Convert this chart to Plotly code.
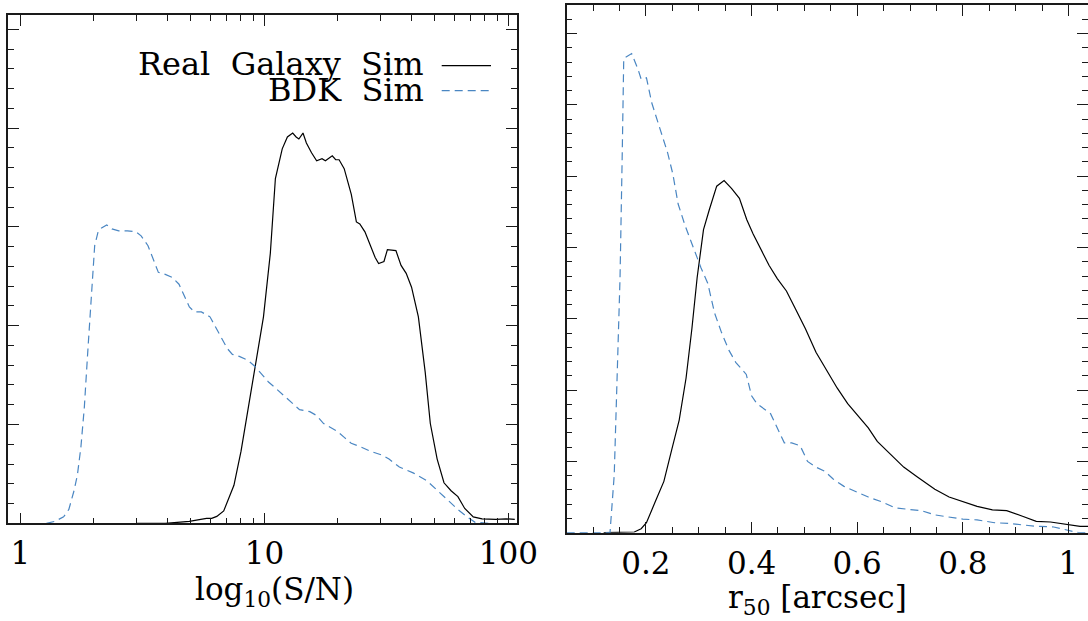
import plotly.graph_objects as go

# ---------------- data ----------------
# Left panel: S/N distribution (arbitrary normalisation, 1 unit = 1 major y tick)
sn_real = [3.0, 3.92, 4.92, 5.79, 6.08, 6.38, 6.81, 7.50, 8.02, 8.55, 9.12, 9.91,
           10.57, 11.09, 11.83, 12.42, 13.06, 13.49, 13.84, 14.39, 14.86, 15.60,
           16.37, 17.22, 17.78, 18.97, 19.59, 20.23, 21.23, 22.70, 23.82, 24.60,
           25.82, 27.10, 28.44, 29.38, 30.90, 31.92, 34.59, 36.31, 38.11, 40.09,
           42.76, 45.60, 47.86, 51.05, 54.45, 58.21, 62.09, 66.22, 71.78, 77.98,
           88.72, 97.95, 106.2]
y_real_sn = [0.0, 0.0, 0.02, 0.05, 0.05, 0.07, 0.125, 0.385, 0.73, 1.13, 1.57, 2.09,
             2.73, 3.49, 3.79, 3.91, 3.95, 3.91, 3.89, 3.95, 3.85, 3.75,
             3.67, 3.69, 3.67, 3.72, 3.68, 3.68, 3.59, 3.33, 3.05, 3.03,
             2.95, 2.81, 2.69, 2.63, 2.65, 2.77, 2.76, 2.61, 2.53, 2.39,
             2.09, 1.53, 1.01, 0.65, 0.41, 0.33, 0.27, 0.15, 0.065, 0.045,
             0.04, 0.045, 0.04]

sn_bdk = [1.278, 1.386, 1.503, 1.579, 1.658, 1.712, 1.769, 1.827, 1.887, 1.950,
          2.015, 2.081, 2.150, 2.257, 2.370, 2.529, 2.743, 2.975, 3.123, 3.333,
          3.499, 3.675, 3.922, 4.184, 4.466, 4.690, 4.924, 5.170, 5.515, 5.982,
          6.282, 6.704, 7.039, 7.390, 7.886, 8.553, 9.127, 9.741, 10.39, 11.09,
          12.03, 13.05, 13.93, 15.35, 16.38, 17.48, 18.66, 19.91, 21.25, 22.68,
          25.00, 27.11, 30.38, 32.41, 35.73, 40.70, 46.35, 51.09, 56.33, 62.09,
          67.33, 73.04, 83.19]
y_bdk_sn = [0.0, 0.02, 0.065, 0.14, 0.33, 0.49, 0.77, 1.17, 1.73, 2.33,
            2.81, 2.95, 2.99, 3.02, 2.98, 2.96, 2.96, 2.95, 2.91, 2.81,
            2.67, 2.54, 2.52, 2.49, 2.42, 2.31, 2.19, 2.14, 2.14, 2.09,
            1.99, 1.87, 1.77, 1.71, 1.69, 1.65, 1.59, 1.51, 1.43, 1.37,
            1.29, 1.21, 1.15, 1.13, 1.09, 1.01, 0.97, 0.93, 0.87, 0.81,
            0.77, 0.73, 0.69, 0.65, 0.57, 0.51, 0.43, 0.33, 0.23, 0.14,
            0.07, 0.01, 0.0]

# Right panel: half-light radius distribution
r50_real = [0.12, 0.165, 0.178, 0.191, 0.201, 0.218, 0.234, 0.249, 0.263, 0.276,
            0.287, 0.297, 0.309, 0.320, 0.334, 0.348, 0.362, 0.377, 0.391, 0.403,
            0.418, 0.433, 0.449, 0.466, 0.483, 0.502, 0.522, 0.542, 0.562, 0.582,
            0.602, 0.621, 0.638, 0.661, 0.688, 0.714, 0.747, 0.774, 0.800, 0.827,
            0.856, 0.883, 0.913, 0.939, 0.966, 0.999, 1.022, 1.037]
y_real_r50 = [0.0, 0.0, 0.01, 0.056, 0.14, 0.44, 0.72, 1.17, 1.58, 2.17,
              2.86, 3.58, 4.25, 4.53, 4.86, 4.94, 4.83, 4.69, 4.39, 4.19,
              3.97, 3.75, 3.56, 3.39, 3.14, 2.86, 2.53, 2.28, 2.03, 1.81,
              1.64, 1.47, 1.28, 1.11, 0.92, 0.78, 0.61, 0.50, 0.44, 0.37,
              0.32, 0.31, 0.23, 0.16, 0.15, 0.11, 0.09, 0.09]

r50_bdk = [0.05, 0.132, 0.140, 0.146, 0.151, 0.155, 0.158, 0.173, 0.185, 0.191,
           0.201, 0.211, 0.228, 0.241, 0.251, 0.261, 0.274, 0.290, 0.304, 0.317,
           0.330, 0.343, 0.357, 0.370, 0.390, 0.400, 0.410, 0.436, 0.449, 0.462,
           0.476, 0.492, 0.506, 0.522, 0.539, 0.555, 0.575, 0.595, 0.621, 0.648,
           0.671, 0.694, 0.721, 0.747, 0.774, 0.800, 0.827, 0.860, 0.886, 0.913,
           0.939, 0.972, 0.999, 1.019, 1.037]
y_bdk_r50 = [0.0, 0.0, 0.81, 2.19, 3.58, 5.25, 6.65, 6.72, 6.50, 6.36,
             6.38, 6.03, 5.64, 5.33, 5.03, 4.61, 4.31, 4.00, 3.72, 3.50,
             3.08, 2.81, 2.56, 2.39, 2.22, 1.92, 1.81, 1.67, 1.47, 1.26,
             1.26, 1.22, 1.00, 0.92, 0.86, 0.75, 0.65, 0.58, 0.50, 0.43,
             0.35, 0.33, 0.31, 0.25, 0.22, 0.19, 0.18, 0.14, 0.13, 0.11,
             0.09, 0.08, 0.04, 0.0, 0.0]

sn_tickvals = [1, 10, 100]
sn_ticktext = ["1", "10", "100"]
sn_minor = [2, 3, 4, 5, 6, 7, 8, 9, 20, 30, 40, 50, 60, 70, 80, 90]
r50_tickvals = [0.2, 0.4, 0.6, 0.8, 1.0]
r50_ticktext = ["0.2", "0.4", "0.6", "0.8", "1"]

legend_names = ["Real Galaxy Sim", "BDK Sim"]
legend_labels = ["Real\u00a0 Galaxy\u00a0 Sim", "BDK\u00a0 Sim"]

# ---------------- styling ----------------
W, H = 1088, 621
FONT = "DejaVu Serif"
BLACK = "#000000"
BLUE = "#4a86c2"
FRAME = "#1a1a1a"

def px_x(p):
    return p / W

def px_y(p):
    return 1 - p / H

fig = go.Figure()

fig.add_trace(go.Scatter(x=sn_real, y=y_real_sn, mode="lines", name=legend_names[0],
                         line=dict(color=BLACK, width=1.2), xaxis="x", yaxis="y",
                         showlegend=False))
fig.add_trace(go.Scatter(x=sn_bdk, y=y_bdk_sn, mode="lines", name=legend_names[1],
                         line=dict(color=BLUE, width=1.2, dash="8px,5px"), xaxis="x", yaxis="y",
                         showlegend=False))
fig.add_trace(go.Scatter(x=r50_real, y=y_real_r50, mode="lines", name=legend_names[0],
                         line=dict(color=BLACK, width=1.2), xaxis="x2", yaxis="y2",
                         showlegend=False))
fig.add_trace(go.Scatter(x=r50_bdk, y=y_bdk_r50, mode="lines", name=legend_names[1],
                         line=dict(color=BLUE, width=1.2, dash="8px,5px"), xaxis="x2", yaxis="y2",
                         showlegend=False))

axis_common = dict(showline=True, linecolor=FRAME, linewidth=1.5, mirror="ticks",
                   ticks="inside", ticklen=11, tickwidth=1.3, tickcolor=FRAME,
                   showgrid=False, zeroline=False, automargin=False)

tickfont = dict(family=FONT, size=31, color="#000000")

fig.update_layout(
    width=W, height=H, autosize=False,
    margin=dict(l=0, r=0, t=0, b=0, pad=0),
    paper_bgcolor="white", plot_bgcolor="white",
    showlegend=False,
    xaxis=dict(domain=[px_x(8), px_x(516.7)], type="log",
               range=[-0.051, 2.034], tickvals=sn_tickvals, ticktext=sn_ticktext,
               tickfont=tickfont, anchor="y", ticklabelstandoff=2,
               minor=dict(tickvals=sn_minor, ticks="inside", ticklen=6, tickwidth=1.2,
                          tickcolor=FRAME, showgrid=False),
               **axis_common),
    yaxis=dict(domain=[px_y(523.3), px_y(15)], range=[0, 5.145], dtick=1, tick0=0,
               showticklabels=False, anchor="x",
               minor=dict(dtick=0.2, ticks="inside", ticklen=6, tickwidth=1.2,
                          tickcolor=FRAME, showgrid=False),
               **axis_common),
    xaxis2=dict(domain=[px_x(566.7), 1.0], range=[0.05, 1.037],
                tickvals=r50_tickvals, ticktext=r50_ticktext,
                tickfont=tickfont, anchor="y2", ticklabelstandoff=2,
                minor=dict(dtick=0.05, tick0=0, ticks="inside", ticklen=6, tickwidth=1.2,
                           tickcolor=FRAME, showgrid=False),
                **axis_common),
    yaxis2=dict(domain=[px_y(532.7), px_y(5.3)], range=[0, 7.397], dtick=1, tick0=0,
                showticklabels=False, anchor="x2",
                minor=dict(dtick=0.2, ticks="inside", ticklen=6, tickwidth=1.2,
                           tickcolor=FRAME, showgrid=False),
                **axis_common),
)

# axis titles
fig.add_annotation(text="log<sub>10</sub>(S/N)", x=px_x(274), y=px_y(591),
                   xref="paper", yref="paper", xanchor="center", yanchor="middle",
                   showarrow=False, font=dict(family=FONT, size=31, color="#000000"))
fig.add_annotation(text="r<sub>50</sub> [arcsec]", x=px_x(817), y=px_y(599),
                   xref="paper", yref="paper", xanchor="center", yanchor="middle",
                   showarrow=False, font=dict(family=FONT, size=31, color="#000000"))

# legend (text right-aligned, sample line to its right)
fig.add_annotation(text=legend_labels[0], x=px_x(426), y=px_y(64),
                   xref="paper", yref="paper", xanchor="right", yanchor="middle",
                   showarrow=False, font=dict(family=FONT, size=32, color="#000000"))
fig.add_annotation(text=legend_labels[1], x=px_x(426), y=px_y(90),
                   xref="paper", yref="paper", xanchor="right", yanchor="middle",
                   showarrow=False, font=dict(family=FONT, size=32, color="#000000"))
fig.add_shape(type="line", xref="paper", yref="paper",
              x0=px_x(441.7), x1=px_x(491), y0=px_y(65.7), y1=px_y(65.7),
              line=dict(color=BLACK, width=1.2))
fig.add_shape(type="line", xref="paper", yref="paper",
              x0=px_x(441.7), x1=px_x(491), y0=px_y(90.7), y1=px_y(90.7),
              line=dict(color=BLUE, width=1.2, dash="8px,5px"))

fig.write_html(
    "out.html",
    config={"responsive": False, "displayModeBar": False},
    post_script=("document.body.style.margin='0px';"
                 "document.body.style.overflow='hidden';"),
)
